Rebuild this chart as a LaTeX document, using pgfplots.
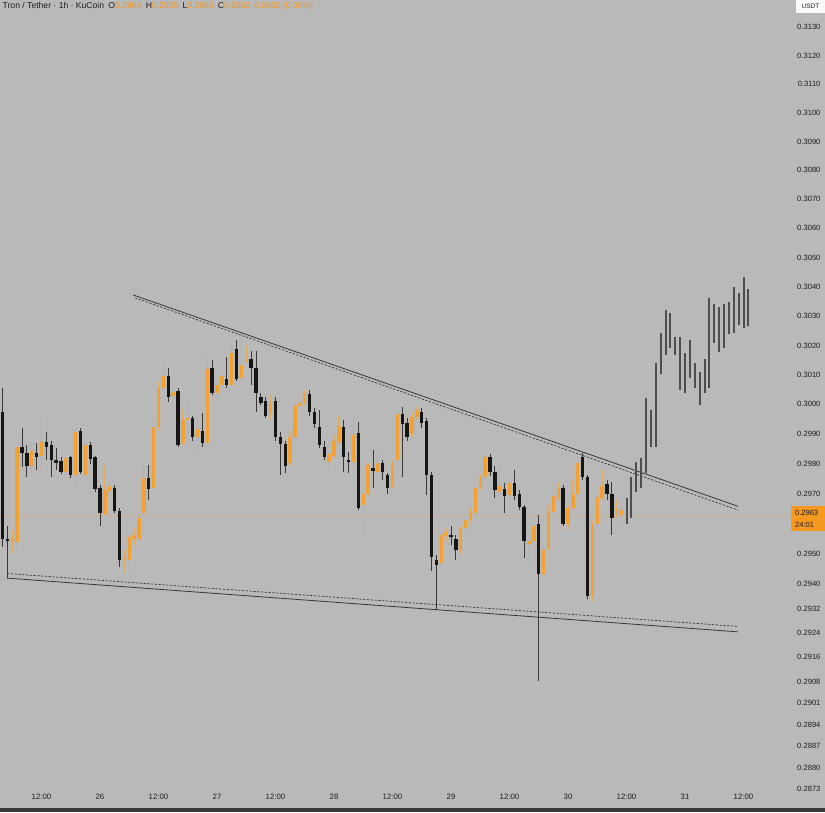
\documentclass[border=0pt]{standalone}
\usepackage{fontspec}
\setmainfont{Liberation Sans}
\usepackage{pgfplots}
\usepackage{pgfplotstable}
\pgfplotsset{compat=1.18}
\definecolor{bggray}{RGB}{185,185,185}
\definecolor{upbody}{RGB}{242,162,52}
\definecolor{upwick}{RGB}{222,172,105}
\definecolor{dnbody}{RGB}{22,22,22}
\definecolor{dnwick}{RGB}{55,55,55}
\definecolor{projbar}{RGB}{78,78,78}
\definecolor{txt}{RGB}{30,30,30}
\definecolor{tagorange}{RGB}{245,152,32}
\definecolor{trend}{RGB}{55,55,55}

% up (orange) candles: hour, open, high, low, close
\pgfplotstableread{
h o hi lo c
-18 0.29539 0.29579 0.29505 0.29555
-17 0.29539 0.29879 0.29505 0.29856
-14 0.29793 0.29879 0.29772 0.29843
-12 0.29829 0.29957 0.29769 0.29873
-7 0.29772 0.29826 0.29759 0.29819
-5 0.29762 0.29920 0.29722 0.29907
-3 0.29762 0.29869 0.29756 0.29863
1 0.29632 0.29796 0.29626 0.29712
2 0.29709 0.29746 0.29702 0.29726
5 0.29479 0.29512 0.29436 0.29489
6 0.29479 0.29569 0.29440 0.29555
7 0.29552 0.29585 0.29529 0.29565
8 0.29552 0.29639 0.29545 0.29619
9 0.29636 0.29796 0.29626 0.29752
11 0.29722 0.29947 0.29712 0.29924
12 0.29924 0.30075 0.29913 0.30055
13 0.30055 0.30132 0.30048 0.30095
15 0.30028 0.30065 0.30021 0.30041
17 0.29869 0.29981 0.29859 0.29947
18 0.29947 0.30021 0.29900 0.29954
20 0.29893 0.29947 0.29823 0.29917
22 0.29869 0.30166 0.29863 0.30119
24 0.30038 0.30082 0.30021 0.30065
25 0.30065 0.30109 0.30055 0.30095
27 0.30065 0.30201 0.30058 0.30173
29 0.30089 0.30228 0.30082 0.30132
30 0.30146 0.30201 0.30139 0.30156
35 0.29974 0.30031 0.29947 0.30004
39 0.29803 0.29913 0.29793 0.29893
40 0.29893 0.30014 0.29879 0.29994
41 0.29994 0.30031 0.29981 0.30004
42 0.30004 0.30048 0.29998 0.30038
47 0.29806 0.29879 0.29779 0.29833
48 0.29829 0.29897 0.29819 0.29876
49 0.29873 0.29964 0.29866 0.29927
52 0.29806 0.29964 0.29796 0.29897
54 0.29662 0.29756 0.29555 0.29702
55 0.29702 0.29803 0.29696 0.29796
57 0.29772 0.29839 0.29756 0.29803
60 0.29726 0.29813 0.29719 0.29803
61 0.29813 0.29974 0.29759 0.29967
64 0.29903 0.29974 0.29890 0.29957
65 0.29957 0.29991 0.29947 0.29981
70 0.29469 0.29579 0.29453 0.29565
71 0.29559 0.29585 0.29545 0.29572
74 0.29509 0.29595 0.29495 0.29585
75 0.29585 0.29622 0.29572 0.29612
76 0.29612 0.29652 0.29602 0.29642
77 0.29636 0.29732 0.29626 0.29722
78 0.29719 0.29766 0.29712 0.29756
79 0.29756 0.29839 0.29746 0.29823
82 0.29706 0.29803 0.29689 0.29726
84 0.29696 0.29746 0.29686 0.29736
88 0.29532 0.29579 0.29469 0.29545
89 0.29542 0.29612 0.29529 0.29592
91 0.29433 0.29519 0.29423 0.29512
92 0.29519 0.29662 0.29512 0.29639
93 0.29639 0.29712 0.29629 0.29692
94 0.29686 0.29739 0.29679 0.29722
96 0.29602 0.29662 0.29579 0.29652
97 0.29652 0.29746 0.29646 0.29702
98 0.29702 0.29829 0.29696 0.29803
101 0.29360 0.29612 0.29347 0.29602
102 0.29602 0.29702 0.29592 0.29689
103 0.29686 0.29779 0.29679 0.29726
106 0.29642 0.29679 0.29619 0.29652
107 0.29629 0.29662 0.29595 0.29646
}\upcandles

% down (black) candles: hour, open, high, low, close
\pgfplotstableread{
h o hi lo c
-20 0.29974 0.30055 0.29522 0.29552
-19 0.29552 0.29595 0.29420 0.29542
-16 0.29856 0.29920 0.29789 0.29836
-15 0.29836 0.29863 0.29756 0.29793
-13 0.29836 0.29869 0.29779 0.29823
-11 0.29873 0.29907 0.29813 0.29856
-10 0.29863 0.29879 0.29756 0.29813
-9 0.29813 0.29853 0.29779 0.29803
-8 0.29809 0.29823 0.29766 0.29772
-6 0.29823 0.29829 0.29752 0.29762
-4 0.29913 0.29920 0.29766 0.29772
-2 0.29863 0.29873 0.29799 0.29816
-1 0.29823 0.29829 0.29706 0.29716
0 0.29722 0.29729 0.29595 0.29636
3 0.29722 0.29729 0.29636 0.29642
4 0.29642 0.29652 0.29456 0.29482
10 0.29752 0.29796 0.29679 0.29716
14 0.30095 0.30122 0.30008 0.30025
16 0.30045 0.30055 0.29856 0.29863
19 0.29954 0.29964 0.29879 0.29893
21 0.29913 0.29971 0.29856 0.29869
23 0.30122 0.30149 0.30031 0.30038
26 0.30085 0.30163 0.30055 0.30065
28 0.30187 0.30218 0.30079 0.30085
31 0.30156 0.30183 0.30065 0.30122
32 0.30122 0.30183 0.29974 0.30038
33 0.30025 0.30038 0.29998 0.30004
34 0.30014 0.30025 0.29954 0.29964
36 0.30014 0.30025 0.29879 0.29893
37 0.29893 0.29907 0.29762 0.29866
38 0.29866 0.29879 0.29769 0.29793
43 0.30035 0.30048 0.29964 0.29974
44 0.29974 0.29988 0.29920 0.29934
45 0.29924 0.29981 0.29853 0.29863
46 0.29856 0.29879 0.29813 0.29823
50 0.29924 0.29947 0.29772 0.29823
51 0.29813 0.29839 0.29769 0.29806
53 0.29903 0.29940 0.29646 0.29652
56 0.29786 0.29846 0.29722 0.29776
58 0.29803 0.29813 0.29746 0.29772
59 0.29762 0.29769 0.29702 0.29722
62 0.29967 0.29991 0.29756 0.29934
63 0.29937 0.29954 0.29879 0.29893
66 0.29974 0.29988 0.29920 0.29937
67 0.29944 0.29954 0.29696 0.29762
68 0.29762 0.29772 0.29446 0.29492
69 0.29482 0.29495 0.29314 0.29463
72 0.29562 0.29595 0.29529 0.29555
73 0.29552 0.29562 0.29479 0.29512
80 0.29823 0.29833 0.29759 0.29772
81 0.29772 0.29793 0.29686 0.29712
83 0.29716 0.29736 0.29636 0.29692
85 0.29736 0.29779 0.29679 0.29692
86 0.29702 0.29712 0.29646 0.29656
87 0.29656 0.29662 0.29489 0.29542
90 0.29602 0.29629 0.29083 0.29433
95 0.29722 0.29729 0.29592 0.29602
99 0.29823 0.29836 0.29746 0.29756
100 0.29756 0.29762 0.29351 0.29360
104 0.29732 0.29746 0.29679 0.29702
105 0.29702 0.29742 0.29562 0.29622
}\dncandles

% projected bars: hour, top, bottom
\pgfplotstableread{
h top bot
108 0.29686 0.29602
109 0.29756 0.29622
110 0.29806 0.29706
111 0.29819 0.29722
112 0.30021 0.29769
113 0.29981 0.29856
114 0.30139 0.29856
115 0.30242 0.30105
116 0.30320 0.30166
117 0.30310 0.30191
118 0.30228 0.30166
119 0.30228 0.30048
120 0.30173 0.30038
121 0.30218 0.30089
122 0.30139 0.30055
123 0.30109 0.29998
124 0.30156 0.30038
125 0.30361 0.30055
126 0.30340 0.30208
127 0.30330 0.30176
128 0.30340 0.30191
129 0.30347 0.30238
130 0.30398 0.30242
131 0.30378 0.30269
132 0.30432 0.30259
133 0.30391 0.30265
}\projbars

\begin{document}
\begin{tikzpicture}
\begin{axis}[
  name=ax,
  width=825pt, height=812pt, scale only axis,
  xmin=-20.513, xmax=148.718,
  ymode=log, ymin=0.28656, ymax=0.31395,
  axis background/.style={fill=bggray},
  axis line style={draw=none},
  major tick length=0pt, minor tick length=0pt,
  tick style={draw=none},
  xtick={-12,0,12,24,36,48,60,72,84,96,108,120,132},
  xticklabels={12:00,26,12:00,27,12:00,28,12:00,29,12:00,30,12:00,31,12:00},
  xticklabel style={anchor=base, yshift=13pt, font=\fontsize{7.8}{8}\selectfont, text=txt},
  ytick={0.3130,0.3120,0.3110,0.3100,0.3090,0.3080,0.3070,0.3060,0.3050,0.3040,0.3030,0.3020,0.3010,0.3000,0.2990,0.2980,0.2970,0.2950,0.2940,0.2932,0.2924,0.2916,0.2908,0.2901,0.2894,0.2887,0.2880,0.2873},
  yticklabels={0.3130,0.3120,0.3110,0.3100,0.3090,0.3080,0.3070,0.3060,0.3050,0.3040,0.3030,0.3020,0.3010,0.3000,0.2990,0.2980,0.2970,0.2950,0.2940,0.2932,0.2924,0.2916,0.2908,0.2901,0.2894,0.2887,0.2880,0.2873},
  yticklabel pos=right,
  yticklabel style={anchor=east, xshift=-1pt, font=\fontsize{7.6}{8}\selectfont, text=txt},
  clip=true,
]
% current price line
\addplot[forget plot, tagorange, densely dotted, line width=0.5pt, opacity=0.4] coordinates {(-20.5,0.2963) (148.7,0.2963)};

% trend lines
\addplot[forget plot, trend, line width=0.8pt] coordinates {(6.77,0.30371) (130.87,0.29659)};
\addplot[forget plot, trend, line width=0.7pt, dash pattern=on 2.2pt off 1.6pt] coordinates {(7.18,0.30361) (130.87,0.29646)};
\addplot[forget plot, trend, line width=0.8pt] coordinates {(-19.08,0.29420) (130.87,0.29242)};
\addplot[forget plot, trend, line width=0.7pt, dash pattern=on 2.2pt off 1.6pt] coordinates {(-19.08,0.29436) (130.87,0.29261)};

% wicks
\addplot[forget plot, draw=none, mark=none, error bars/.cd, y dir=plus, y explicit, error mark=none,
  error bar style={draw=upwick, line width=0.9pt}]
  table[x=h, y=lo, y error expr=\thisrow{hi}-\thisrow{lo}] {\upcandles};
\addplot[forget plot, draw=none, mark=none, error bars/.cd, y dir=plus, y explicit, error mark=none,
  error bar style={draw=dnwick, line width=0.9pt}]
  table[x=h, y=lo, y error expr=\thisrow{hi}-\thisrow{lo}] {\dncandles};
% bodies
\addplot[forget plot, draw=none, mark=none, error bars/.cd, y dir=plus, y explicit, error mark=none,
  error bar style={draw=upbody, line width=3.3pt}]
  table[x=h, y=o, y error expr=\thisrow{c}-\thisrow{o}] {\upcandles};
\addplot[forget plot, draw=none, mark=none, error bars/.cd, y dir=plus, y explicit, error mark=none,
  error bar style={draw=dnbody, line width=3.3pt}]
  table[x=h, y=c, y error expr=\thisrow{o}-\thisrow{c}] {\dncandles};
% projected bars
\addplot[forget plot, draw=none, mark=none, error bars/.cd, y dir=plus, y explicit, error mark=none,
  error bar style={draw=projbar, line width=2pt}]
  table[x=h, y=bot, y error expr=\thisrow{top}-\thisrow{bot}] {\projbars};

% header text
\node[anchor=base west, inner sep=0pt, font=\fontsize{8.6}{9}\selectfont, text=txt] at (rel axis cs:0.003,0.9895)
  {Tron / Tether · 1h · KuCoin\enspace O\textcolor{tagorange}{0.2964}\enspace H\textcolor{tagorange}{0.2965}\enspace L\textcolor{tagorange}{0.2960}\enspace C\textcolor{tagorange}{0.2963 \,0.0000 (0.00\%)}};
% USDT box
\fill[white!92!bggray] (rel axis cs:0.9648,1) rectangle (rel axis cs:1,0.9840);
\node[font=\fontsize{6.5}{7}\selectfont, text=txt, inner sep=0pt] at (rel axis cs:0.9824,0.9920) {USDT};
% price tag
\fill[tagorange] (rel axis cs:0.9588,0.3768) rectangle (rel axis cs:1,0.3461);
\node[anchor=west, font=\fontsize{7.5}{8}\selectfont, text=txt, inner sep=0pt] at (rel axis cs:0.9636,0.3680) {0.2963};
\node[anchor=west, font=\fontsize{7.5}{8}\selectfont, text=txt, inner sep=0pt] at (rel axis cs:0.9636,0.3536) {24:01};
% bottom border
\fill[black!78] (rel axis cs:0,0) rectangle (rel axis cs:1,0.0050);
\end{axis}
\pgfresetboundingbox
\path (ax.south west) rectangle (ax.north east);
\end{tikzpicture}
\end{document}
